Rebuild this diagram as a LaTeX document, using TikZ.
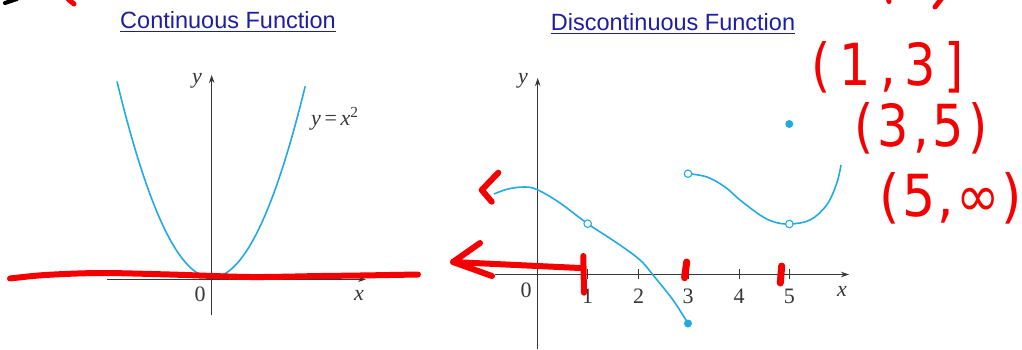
\documentclass[tikz,border=0pt]{standalone}
\usepackage{fontspec}
\setmainfont{Liberation Serif}
\newfontfamily\titlefont{Liberation Sans}
\newfontfamily\handfont{DejaVu Sans}
\usetikzlibrary{arrows.meta}
\definecolor{curveblue}{RGB}{35,170,225}
\definecolor{titleblue}{RGB}{30,30,160}
\definecolor{axisgray}{RGB}{55,55,55}
\definecolor{inkred}{RGB}{245,0,0}
\tikzset{
  axisline/.style={draw=axisgray, line width=0.9pt, -{Stealth[length=8pt,width=5.5pt]}},
  tickline/.style={draw=axisgray, line width=0.9pt},
  curve/.style={draw=curveblue, line width=1.6pt},
  opendot/.style={circle, draw=curveblue, fill=white, line width=1.1pt, inner sep=0pt, minimum size=7.5pt},
  fulldot/.style={circle, fill=curveblue, inner sep=0pt, minimum size=8pt},
  ink/.style={draw=inkred, line width=6pt, line cap=round, line join=round},
  lbl/.style={font=\fontsize{22}{22}\selectfont, text=axisgray, inner sep=0pt},
  titletext/.style={font=\titlefont\fontsize{23.5}{24}\selectfont, text=titleblue, inner sep=0pt, anchor=base},
  underl/.style={draw=titleblue, line width=1.2pt},
  hand/.style={font=\handfont\fontsize{58}{58}\selectfont, text=inkred, inner sep=0pt, anchor=base},
}
\begin{document}
\begin{tikzpicture}[x=1pt,y=-1pt]
\useasboundingbox[fill=white] (0,0) rectangle (1022,349);

% ---------- titles ----------
\node[titletext] (t1) at (228,28) {Continuous Function};
\draw[underl] ([yshift=-3.6pt]t1.base west) -- ([yshift=-3.6pt]t1.base east);
\node[titletext] (t2) at (673,30.5) {Discontinuous Function};
\draw[underl] ([yshift=-3pt]t2.base west) -- ([yshift=-3pt]t2.base east);

% ---------- left plot ----------
\coordinate (lxs) at (107,279.3);
\coordinate (lxe) at (366,279.3);
\coordinate (lys) at (211.7,315);
\coordinate (lye) at (211.7,75);
\draw[axisline] (lxs) -- (lxe);
\draw[axisline] (lys) -- (lye);
\draw[curve] plot[domain=-94.7:93.5, samples=80] ({211.7+\x},{277.5-0.02186*\x*\x});
\node[lbl] (ly) at (197,81) {\itshape y};
\node[lbl] (lo) at (200,294) {0};
\node[lbl] (lx) at (359,295) {\itshape x};
\node[lbl, anchor=west] (leq) at (311,119) {\itshape y\,\upshape=\,\itshape x\upshape\textsuperscript{2}};

% ---------- right plot ----------
\coordinate (rxs) at (495,274.5);
\coordinate (rxe) at (849,274.5);
\coordinate (rys) at (537.7,349);
\coordinate (rye) at (537.7,78);
\draw[axisline] (rxs) -- (rxe);
\draw[axisline] (rys) -- (rye);
\foreach \i/\xx in {1/587.7,2/638.7,3/688,4/739,5/789.3}{
  \draw[tickline] (\xx,269.3) -- (\xx,279.3);
  \node[lbl] (tk\i) at (\xx,296.5) {\i};
}
\node[lbl] (ro) at (526,290) {0};
\node[lbl] (rx) at (842,291) {\itshape x};
\node[lbl] (ry) at (523,81) {\itshape y};

% curve pieces
\draw[curve] plot[smooth, tension=0.6] coordinates {(494,194) (508,189) (525,187) (538,190) (560,203) (587.7,223.7) (617,243) (640,260) (653,275) (673,300) (688,323.5)};
\draw[curve] plot[smooth, tension=0.6] coordinates {(688,173.7) (707,177) (725,187) (740,200) (760,215) (773.3,221.7) (789.3,224) (810,220) (826.7,205) (836.7,183.3) (841,165)};
\node[opendot] (o1) at (587.7,223.7) {};
\node[opendot] (o3) at (688,173.7) {};
\node[opendot] (o5) at (789.3,224) {};
\node[fulldot] (f3) at (688,323.5) {};
\node[fulldot] (f5) at (789.3,124) {};

% ---------- red ink annotations ----------
\draw[ink] plot[smooth, tension=0.5] coordinates {(10,278.5) (45,275) (100,273) (170,274.5) (250,277) (320,276) (360,275.5) (418,274.5)};
\draw[ink] (498.3,172.7) -- (481.7,190) -- (491.7,201.7);
\draw[ink] (580,268) -- (453,262);
\draw[ink] (480,243) -- (453,262) -- (492,276);
\draw[ink] (583.3,256) -- (584,292.7);
\draw[ink, line width=7pt] (686.7,262) -- (684.6,277.7);
\draw[ink, line width=7pt] (781.7,266) -- (780.3,283);
\draw[draw=black, line width=4pt, line cap=round] (5,3) -- (17,-1);
\draw[ink, line width=5pt] (68,-1) -- (74,4);
\draw[ink, line width=5pt] (888.5,-1) -- (889,1.5);
\draw[ink, line width=5pt] (942,-2) -- (935,7);

\node[hand] (h1) at (888,85) {\scalebox{0.85}[1]{\addfontfeature{LetterSpace=18}(1,3]}};
\node[hand] (h2) at (921,146) {\scalebox{0.85}[1]{\addfontfeature{LetterSpace=8}(3,5)}};
\node[hand] (h3) at (951,216) {\scalebox{0.9}[1]{\addfontfeature{LetterSpace=4}(5,∞)}};
\end{tikzpicture}
\end{document}
